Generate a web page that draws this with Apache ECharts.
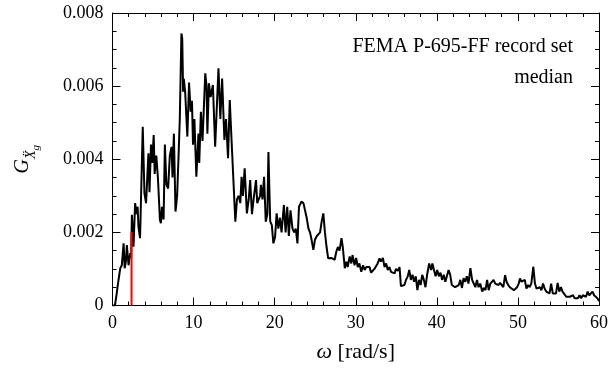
<!DOCTYPE html>
<html>
<head>
<meta charset="utf-8">
<script src="https://cdn.jsdelivr.net/npm/echarts@6/dist/echarts.min.js"></script>
<style>html,body{margin:0;padding:0;background:#fff;}#c{width:611px;height:369px;}</style>
</head>
<body>
<div id="c"></div>
<script>
const omega = [0,0.3,0.5,0.71,0.96,1.15,1.37,1.5,1.65,1.77,1.98,2.18,2.3,2.39,2.59,2.79,2.95,3.1,3.2,3.4,3.73,3.94,4.14,4.43,4.56,4.75,4.9,5.08,5.2,5.4,5.6,5.85,5.97,6.1,6.3,6.46,6.65,6.86,7.07,7.28,7.4,7.57,7.77,7.97,8.18,8.3,8.5,8.6,8.71,8.8,8.97,9.23,9.44,9.64,9.8,9.93,10.1,10.34,10.6,10.7,10.9,11.1,11.44,11.6,11.7,11.89,12.1,12.38,12.66,12.9,13.07,13.3,13.52,13.8,14.0,14.25,14.46,14.75,15.15,15.35,15.55,15.76,15.92,16.08,16.3,16.57,16.8,16.98,17.2,17.4,17.7,17.85,18.2,18.3,18.5,18.69,18.9,19.1,19.23,19.45,19.65,19.84,20.05,20.24,20.45,20.65,20.85,21.14,21.35,21.55,21.75,21.95,22.2,22.4,22.6,22.81,23.0,23.3,23.55,23.75,23.95,24.16,24.36,24.56,24.77,24.97,25.2,25.4,25.6,25.8,26.0,26.2,26.4,26.6,26.8,27.0,27.2,27.4,27.6,27.8,28.0,28.24,28.4,28.65,28.85,29.0,29.25,29.45,29.6,29.85,30.05,30.25,30.45,30.68,30.9,31.1,31.3,31.5,31.7,31.9,32.1,32.3,32.5,32.7,32.93,33.1,33.35,33.55,33.75,33.95,34.15,34.35,34.55,34.8,34.95,35.2,35.4,35.57,35.8,36.0,36.2,36.4,36.6,36.8,37.0,37.2,37.4,37.6,37.8,38.0,38.2,38.4,38.6,38.8,39.05,39.3,39.45,39.65,39.85,40.05,40.25,40.45,40.65,40.85,41.05,41.25,41.45,41.65,41.85,42.05,42.25,42.45,42.7,42.9,43.1,43.3,43.5,43.7,43.9,44.14,44.35,44.55,44.75,44.95,45.15,45.35,45.6,45.8,46.0,46.2,46.4,46.6,46.8,47.0,47.2,47.4,47.6,47.8,48.0,48.2,48.42,48.6,48.8,49.0,49.2,49.5,49.7,49.9,50.1,50.25,50.45,50.65,50.85,51.05,51.25,51.45,51.65,51.9,52.1,52.3,52.5,52.7,52.9,53.1,53.3,53.5,53.7,53.9,54.1,54.3,54.5,54.7,54.9,55.1,55.3,55.5,55.7,55.96,56.2,56.4,56.6,56.8,57.0,57.2,57.4,57.6,57.8,58.0,58.2,58.4,58.6,58.8,59.0,59.2,59.4,59.6,59.8,60.0];
const Gxg = [0,0,0.0003,0.00065,0.00102,0.0011,0.0017,0.00102,0.0012,0.00165,0.0011,0.00143,0.0013,0.00248,0.00161,0.0028,0.0025,0.0027,0.00216,0.00184,0.00489,0.00307,0.0028,0.00416,0.0031,0.0044,0.0039,0.00466,0.0036,0.0041,0.0035,0.00234,0.00225,0.0027,0.00235,0.0044,0.0033,0.0032,0.0041,0.00434,0.0035,0.0047,0.00257,0.003,0.0043,0.0051,0.00744,0.0073,0.00585,0.0062,0.0058,0.00462,0.0061,0.0053,0.0056,0.0044,0.0051,0.00352,0.0047,0.0039,0.0053,0.0045,0.00635,0.006,0.0047,0.00608,0.0057,0.00603,0.00434,0.0056,0.00649,0.0051,0.00621,0.00453,0.0051,0.00403,0.00562,0.0042,0.00229,0.0029,0.003,0.0028,0.00352,0.003,0.00375,0.00252,0.0029,0.00343,0.0025,0.0029,0.00343,0.0028,0.003,0.0033,0.0029,0.00352,0.00229,0.0025,0.0042,0.0023,0.0022,0.0017,0.00187,0.00252,0.0021,0.0024,0.002,0.00275,0.002,0.0027,0.0019,0.0026,0.0021,0.002,0.0021,0.0017,0.0027,0.00284,0.0028,0.0026,0.0024,0.00211,0.002,0.00179,0.00152,0.0018,0.0019,0.0019,0.002,0.0023,0.00252,0.002,0.0016,0.00129,0.00125,0.0013,0.00134,0.00125,0.00147,0.0016,0.0015,0.00184,0.0016,0.00102,0.0012,0.00105,0.00134,0.00115,0.00138,0.0011,0.0013,0.00105,0.00115,0.00092,0.0011,0.00097,0.00105,0.001,0.00105,0.0009,0.00088,0.001,0.00105,0.00115,0.00129,0.0012,0.0013,0.00105,0.00115,0.00097,0.00105,0.00092,0.00097,0.00088,0.001,0.00095,0.00105,0.00053,0.00052,0.00056,0.0007,0.00079,0.00097,0.0007,0.00084,0.00065,0.0008,0.00042,0.0007,0.00056,0.00084,0.0007,0.0005,0.00084,0.00115,0.00097,0.00115,0.00097,0.0008,0.00097,0.0008,0.0009,0.0007,0.00084,0.00065,0.0007,0.00097,0.00084,0.00056,0.00056,0.0005,0.00048,0.00056,0.0007,0.00048,0.00075,0.00065,0.0008,0.0006,0.00102,0.0007,0.00075,0.0005,0.0007,0.0005,0.0006,0.00038,0.00048,0.00042,0.0007,0.00042,0.0006,0.00062,0.0007,0.0006,0.00062,0.00056,0.00062,0.0006,0.0005,0.00083,0.00065,0.00056,0.0005,0.0005,0.00042,0.00046,0.0005,0.0006,0.00074,0.00065,0.0006,0.0007,0.00046,0.00056,0.0005,0.0006,0.00106,0.0006,0.00046,0.00042,0.0005,0.00042,0.0006,0.00046,0.00038,0.00042,0.00033,0.0006,0.00033,0.00038,0.00033,0.00062,0.00038,0.0005,0.00038,0.00042,0.00024,0.0002,0.00024,0.0002,0.00028,0.0002,0.00024,0.0002,0.00028,0.0002,0.00028,0.00033,0.00024,0.00038,0.00028,0.00024,0.00038,0.00028,0.00033,0.0002,0.00012];
const redOmega = [2.35, 2.35];
const redG = [0, 0.00202];
const xTicks = [0, 10, 20, 30, 40, 50, 60];
const yTicks = [0, 0.002, 0.004, 0.006, 0.008];
const annotation = ['FEMA P-695-FF record set', 'median'];

const FONT = '"Liberation Serif", "Times New Roman", serif';
const chart = echarts.init(document.getElementById('c'), null, {renderer: 'canvas'});

function axisCommon(showLabels, isX) {
  return {
    type: 'value',
    min: isX ? xTicks[0] : yTicks[0],
    max: isX ? xTicks[xTicks.length - 1] : yTicks[yTicks.length - 1],
    interval: isX ? 10 : 0.002,
    axisLine: {show: true, onZero: false, lineStyle: {color: '#000', width: 1}},
    axisTick: {show: true, inside: true, length: 8, lineStyle: {color: '#000', width: 1}},
    minorTick: {show: true, splitNumber: isX ? 5 : 4, length: 4, lineStyle: {color: '#000', width: 1}},
    splitLine: {show: false},
    minorSplitLine: {show: false},
    axisLabel: {
      show: showLabels, color: '#000', fontFamily: FONT, fontSize: 18, margin: isX ? 9 : 9,
      formatter: isX ? (v => String(v)) : (v => v === 0 ? '0' : v.toFixed(3))
    }
  };
}

const xBottom = Object.assign(axisCommon(true, true), {
  position: 'bottom',
  name: '{w|ω} [rad/s]',
  nameLocation: 'middle',
  nameGap: 36,
  nameTextStyle: {color: '#000', fontFamily: FONT, fontSize: 22,
    rich: {w: {fontFamily: FONT, fontSize: 22, fontStyle: 'italic', color: '#000'}}}
});
const xTop = Object.assign(axisCommon(false, true), {position: 'top'});
const yLeft = Object.assign(axisCommon(true, false), {
  position: 'left',
  name: '{g|G}{s|Ẍ}{t|g}',
  nameLocation: 'middle',
  nameGap: 80,
  nameRotate: 90,
  nameTextStyle: {color: '#000', fontFamily: FONT, fontSize: 19,
    rich: {
      g: {fontFamily: FONT, fontSize: 20, fontStyle: 'italic', color: '#000', verticalAlign: 'bottom'},
      s: {fontFamily: FONT, fontSize: 14, fontStyle: 'italic', color: '#000', verticalAlign: 'bottom', padding: [0,0,-6,0]},
      t: {fontFamily: FONT, fontSize: 11, fontStyle: 'italic', color: '#000', verticalAlign: 'bottom', padding: [0,0,-9,0]}
    }}
});
const yRight = Object.assign(axisCommon(false, false), {position: 'right'});

chart.setOption({
  animation: false,
  backgroundColor: '#fff',
  grid: {left: 112.5, right: 8, top: 13, bottom: 63.5, containLabel: false},
  xAxis: [xBottom, xTop],
  yAxis: [yLeft, yRight],
  graphic: [
    {type: 'text', right: 38, top: 37, style: {text: annotation[0], font: '20px ' + FONT, fill: '#000', textAlign: 'right'}},
    {type: 'text', right: 38, top: 68, style: {text: annotation[1], font: '20px ' + FONT, fill: '#000', textAlign: 'right'}}
  ],
  series: [
    {
      type: 'line', xAxisIndex: 0, yAxisIndex: 0,
      data: omega.map((x, i) => [x, Gxg[i]]),
      showSymbol: false, symbol: 'none',
      lineStyle: {color: '#000', width: 2},
      z: 2
    },
    {
      type: 'line', xAxisIndex: 0, yAxisIndex: 0,
      data: redOmega.map((x, i) => [x, redG[i]]),
      showSymbol: false, symbol: 'none',
      lineStyle: {color: '#ff0000', width: 2},
      z: 3
    }
  ]
});
</script>
</body>
</html>
